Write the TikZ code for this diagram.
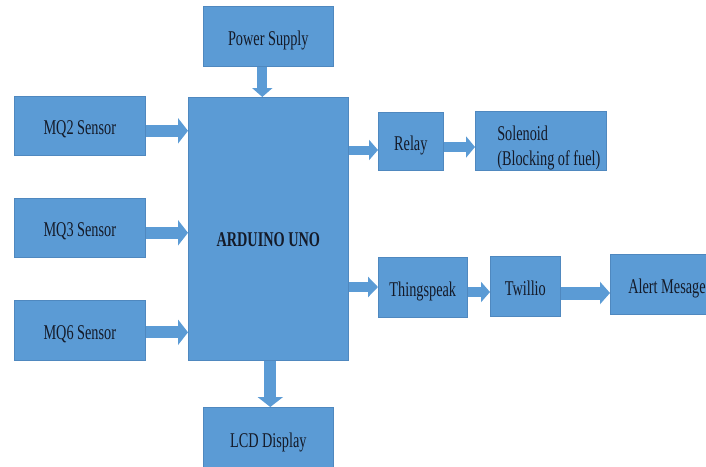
\documentclass[tikz,border=0pt]{standalone}
\usepackage{fontspec}
\setmainfont{Liberation Serif}[FakeStretch=0.68]
\usetikzlibrary{arrows.meta}
\definecolor{boxblue}{HTML}{5B9BD5}
\definecolor{boxedge}{HTML}{4F88BF}
\definecolor{txt}{HTML}{141A28}
\tikzset{
  box/.style={fill=boxblue, draw=boxedge, line width=0.6pt, inner sep=2pt, text=txt, font=\fontsize{21}{20}\selectfont, text height=20pt, text depth=2pt, anchor=north west},
  fat/.style={draw=boxblue, line width=#1},
  fat/.default=11pt
}
\begin{document}
\begin{tikzpicture}[x=1pt,y=1pt]
\useasboundingbox (0,0) rectangle (706,-466);
\clip (0,0) rectangle (706,-466);
\node[box, minimum width=130pt, minimum height=60pt] (ps) at (203,-6) {Power Supply};
\node[box, minimum width=160pt, minimum height=263pt, font=\fontsize{21}{20}\selectfont\bfseries, text height=37pt] (ard) at (188,-97) {ARDUINO UNO};
\node[box, minimum width=131pt, minimum height=59pt] (mq2) at (14,-96) {MQ2 Sensor};
\node[box, minimum width=131pt, minimum height=59pt] (mq3) at (14,-198) {MQ3 Sensor};
\node[box, minimum width=131pt, minimum height=60pt] (mq6) at (14,-300) {MQ6 Sensor};
\node[box, minimum width=130pt, minimum height=62pt] (lcd) at (203,-407) {LCD Display};
\node[box, minimum width=65pt, minimum height=58pt] (relay) at (378,-112) {Relay};
\node[box, minimum width=131pt, minimum height=59pt, align=flush left, text width=127pt, text height=21pt, text depth=21pt] (sol) at (475,-111) {\hspace*{20pt}\mbox{Solenoid}\\[5pt]\hspace*{20pt}\mbox{(Blocking of fuel)}};
\node[box, minimum width=89pt, minimum height=60pt] (ts) at (378,-257) {Thingspeak};
\node[box, minimum width=70pt, minimum height=60pt] (tw) at (490,-256) {Twillio};
\node[box, minimum width=110pt, minimum height=60pt, align=flush left, text width=106pt] (al) at (610,-254) {\hspace*{16pt}\mbox{Alert Mesage}};
% connectors
\coordinate (a1) at ([yshift=-5pt]mq2.east);
\draw[fat=12pt, -{Triangle[length=10pt,width=25pt]}] (a1) -- (a1 -| ard.west);
\coordinate (a2) at ([yshift=-5pt]mq3.east);
\draw[fat=12pt, -{Triangle[length=10pt,width=25pt]}] (a2) -- (a2 -| ard.west);
\coordinate (a3) at ([yshift=-2pt]mq6.east);
\draw[fat=12pt, -{Triangle[length=10pt,width=25pt]}] (a3) -- (a3 -| ard.west);
\coordinate (a4) at ([xshift=-6pt]ps.south);
\draw[fat=10pt, -{Triangle[length=9pt,width=20pt]}] (a4) -- (a4 |- ard.north);
\coordinate (a5) at ([xshift=2pt]ard.south);
\draw[fat=12pt, -{Triangle[length=10pt,width=25pt]}] (a5) -- (a5 |- lcd.north);
\coordinate (a6) at (ard.east |- 0,-150);
\draw[fat=9pt, -{Triangle[length=9pt,width=20pt]}] (a6) -- (a6 -| relay.west);
\coordinate (a7) at (relay.east |- 0,-147);
\draw[fat=10pt, -{Triangle[length=9pt,width=21pt]}] (a7) -- (a7 -| sol.west);
\coordinate (a8) at (ard.east |- 0,-287);
\draw[fat=10pt, -{Triangle[length=10pt,width=20pt]}] (a8) -- (a8 -| ts.west);
\coordinate (a9) at (ts.east |- 0,-292);
\draw[fat=10pt, -{Triangle[length=9pt,width=20pt]}] (a9) -- (a9 -| tw.west);
\coordinate (a10) at (tw.east |- 0,-293);
\draw[fat=13pt, -{Triangle[length=10pt,width=22pt]}] (a10) -- (a10 -| al.west);
\end{tikzpicture}
\end{document}
